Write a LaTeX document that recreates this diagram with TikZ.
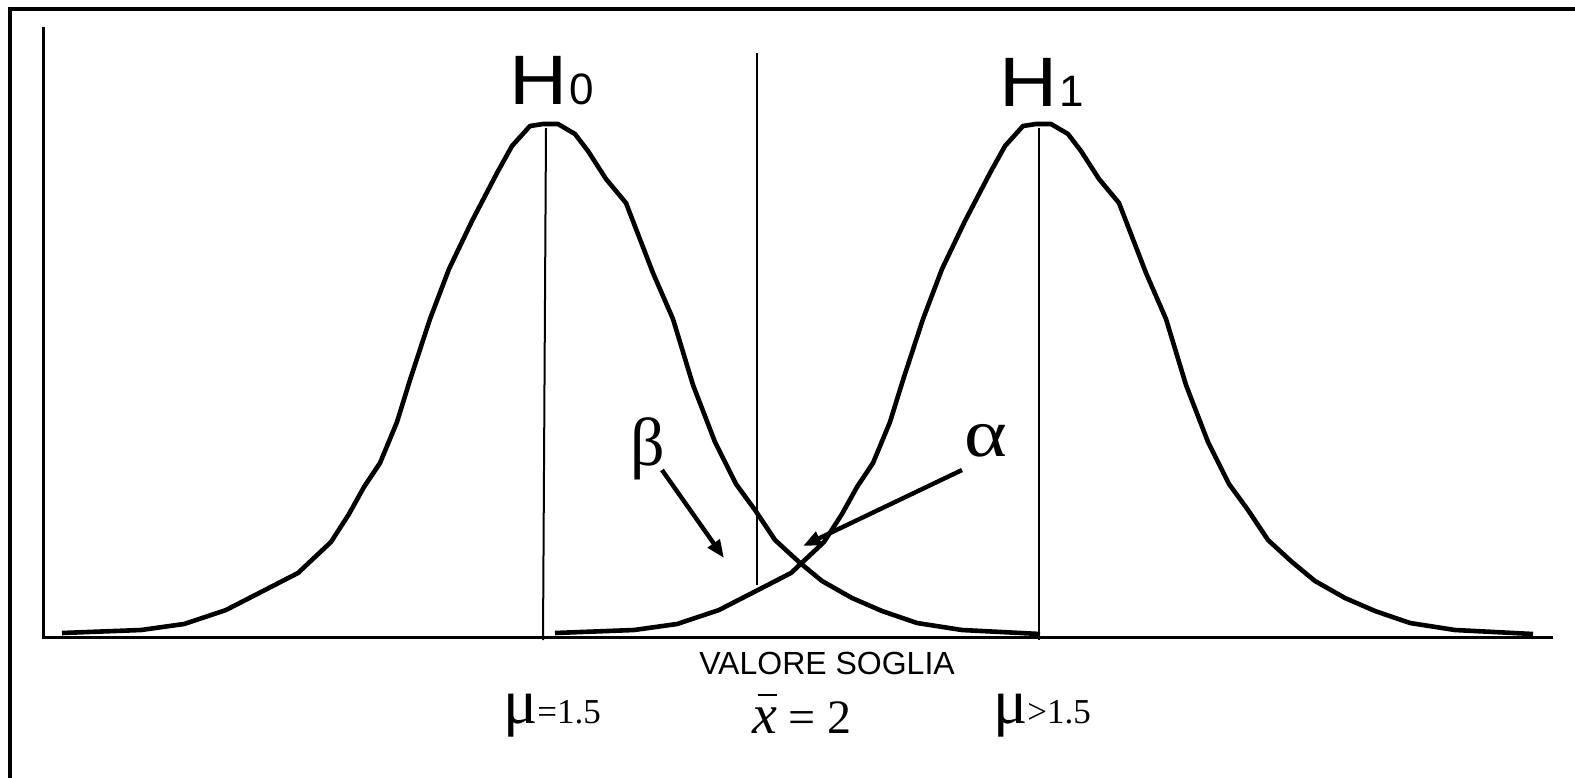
\documentclass[tikz,border=0pt]{standalone}
\usepackage{fontspec}
\setmainfont{Liberation Serif}
\newfontfamily\arialf{Liberation Sans}
\usetikzlibrary{arrows.meta}
\begin{document}
\begin{tikzpicture}[x=0.5pt,y=-0.5pt,
  curve/.style={line width=2.3pt,line join=round},
  meanline/.style={line width=1pt},
  axisline/.style={line width=1.5pt},
  arrowline/.style={line width=2.2pt,-{Triangle[length=9pt,width=7pt]}},
  lbl/.style={inner sep=0pt,outer sep=0pt}]
\useasboundingbox (0,0) rectangle (1575,777);
\fill[white] (0,0) rectangle (1575,777);
% frame
\draw[line width=2pt] (10,790) -- (10,9) -- (1590,9);
% axes
\draw[axisline] (43,27) -- (43,637) -- (1553,637);
% H0 curve
\draw[curve] plot coordinates {(62,633) (141,630) (184,624) (226,610) (263,591) (298,573) (331,542) (349,514) (364,487) (380,463) (397,422) (410,380) (430,319) (449,269) (472,221) (497,173) (512,146) (530,126) (543,124) (558,124) (575,134) (588,151) (606,179) (626,203) (653,273) (673,319) (693,385) (715,442) (736,484) (755,510) (775,540) (799,562) (822,581) (852,598) (882,611) (917,623) (962,630) (1040,634)};
% H1 curve (same shape shifted)
\begin{scope}[xshift=246.5pt]
\draw[curve] plot coordinates {(62,633) (141,630) (184,624) (226,610) (263,591) (298,573) (331,542) (349,514) (364,487) (380,463) (397,422) (410,380) (430,319) (449,269) (472,221) (497,173) (512,146) (530,126) (543,124) (558,124) (575,134) (588,151) (606,179) (626,203) (653,273) (673,319) (693,385) (715,442) (736,484) (755,510) (775,540) (799,562) (822,581) (852,598) (882,611) (917,623) (962,630) (1040,634)};
\end{scope}
% mean lines and threshold
\coordinate (m0top) at (546,128);
\coordinate (m0bot) at (543,640);
\coordinate (m1top) at (1039,128);
\coordinate (m1bot) at (1039,640);
\coordinate (thtop) at (757,53);
\coordinate (thbot) at (757,585);
\draw[meanline] (m0top) -- (m0bot);
\draw[meanline] (m1top) -- (m1bot);
\draw[line width=1.3pt] (thtop) -- (thbot);
% labels
\node[lbl,anchor=base west] (h0) at (509,104) {\arialf\fontsize{35}{35}\selectfont\scalebox{1.15}[1]{H}\hspace{1pt}\fontsize{22}{22}\selectfont 0};
\node[lbl,anchor=base west] (h1) at (999,106) {\arialf\fontsize{35}{35}\selectfont\scalebox{1.15}[1]{H}\hspace{1pt}\fontsize{22}{22}\selectfont 1};
\node[lbl] (beta) at (648,449) {\fontsize{34}{34}\selectfont β};
\node[lbl] (alpha) at (986,441) {\fontsize{34}{34}\selectfont\scalebox{1.2}[1]{α}};
\coordinate (btail) at (662,470);
\coordinate (bhead) at (724,558);
\coordinate (atail) at (962,470);
\coordinate (ahead) at (803,546);
\draw[arrowline] (btail) -- (bhead);
\draw[arrowline] (atail) -- (ahead);
\node[lbl,anchor=base] (soglia) at (827,674) {\arialf\fontsize{16}{16}\selectfont VALORE SOGLIA};
\node[lbl,anchor=base west] (mu0) at (503,723) {\fontsize{32}{32}\selectfont μ\fontsize{17.5}{17.5}\selectfont =1.5};
\node[lbl,anchor=base west] (xbar) at (752,733) {{\fontsize{28}{28}\selectfont\rlap{\hspace{0.1em}\raisebox{0.66em}{\rule{0.34em}{0.04em}}}\textit{x}}\fontsize{24}{24}\selectfont{} = 2};
\node[lbl,anchor=base west] (mu1) at (993,723) {\fontsize{32}{32}\selectfont μ\fontsize{17.5}{17.5}\selectfont >1.5};
\end{tikzpicture}
\end{document}
